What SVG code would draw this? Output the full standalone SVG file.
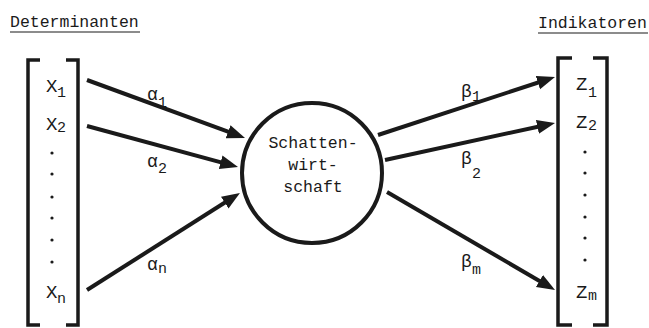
<svg xmlns="http://www.w3.org/2000/svg" width="649" height="328" viewBox="0 0 649 328">
<style>
text{font-family:"Liberation Mono","DejaVu Sans Mono",monospace;fill:#1a1a1a}
.t{font-size:16.5px}
.v{font-size:19px}
.s{font-size:15px}
.g{font-size:16.5px}
.a{font-size:18px}
.br{fill:none;stroke:#1a1a1a;stroke-width:3.5}
.u{stroke:#1a1a1a;stroke-width:1.2}
.c{stroke:#1a1a1a;stroke-width:4;fill:none;marker-end:url(#ah)}
.d{fill:#1a1a1a}
</style>
<defs>
<marker id="ah" markerUnits="userSpaceOnUse" markerWidth="20" markerHeight="18" refX="10" refY="8" orient="auto">
<path d="M0,1 L18,8 L0,15 z" fill="#1a1a1a"/>
</marker>
</defs>
<g id="title-left">
<text class="t" x="10" y="27">Determinanten</text>
<line class="u" x1="10" y1="32" x2="140" y2="32"/>
</g>
<g id="title-right">
<text class="t" x="538" y="28">Indikatoren</text>
<line class="u" x1="538" y1="33" x2="648" y2="33"/>
</g>
<g id="determinanten">
<path class="br" d="M40,60 H28 V325 H40"/>
<path class="br" d="M66,60 H78 V325 H66"/>
<text class="v" x="46" y="92">X</text><text class="s" x="57" y="97">1</text>
<text class="v" x="46" y="130">X</text><text class="s" x="57" y="132">2</text>
<circle class="d" cx="52" cy="153" r="1.6"/>
<circle class="d" cx="52" cy="174" r="1.6"/>
<circle class="d" cx="52" cy="197" r="1.6"/>
<circle class="d" cx="52" cy="218" r="1.6"/>
<circle class="d" cx="52" cy="240" r="1.6"/>
<circle class="d" cx="52" cy="262" r="1.6"/>
<text class="v" x="46" y="298">X</text><text class="s" x="57" y="303">n</text>
</g>
<g id="indikatoren">
<path class="br" d="M572,58 H558 V325 H572"/>
<path class="br" d="M593,58 H607 V325 H593"/>
<text class="v" x="576" y="90">Z</text><text class="s" x="588" y="97">1</text>
<text class="v" x="576" y="128">Z</text><text class="s" x="588" y="130">2</text>
<circle class="d" cx="585" cy="152" r="1.6"/>
<circle class="d" cx="585" cy="173" r="1.6"/>
<circle class="d" cx="585" cy="195" r="1.6"/>
<circle class="d" cx="585" cy="217" r="1.6"/>
<circle class="d" cx="585" cy="238" r="1.6"/>
<circle class="d" cx="585" cy="260" r="1.6"/>
<text class="v" x="576" y="298">Z</text><text class="s" x="588" y="300">m</text>
</g>
<g id="schattenwirtschaft">
<circle cx="312" cy="173" r="70" fill="none" stroke="#1a1a1a" stroke-width="4"/>
<text class="g" x="313" y="148" text-anchor="middle">Schatten-</text>
<text class="g" x="313" y="170" text-anchor="middle">wirt-</text>
<text class="g" x="313" y="192" text-anchor="middle">schaft</text>
</g>
<g id="connectors">
<line class="c" x1="87" y1="80" x2="237.5" y2="135.2"/>
<line class="c" x1="87" y1="126" x2="230.3" y2="164.9"/>
<line class="c" x1="87" y1="290" x2="233.2" y2="197.3"/>
<line class="c" x1="378" y1="135" x2="547.4" y2="79.5"/>
<line class="c" x1="385" y1="160" x2="547.2" y2="124.7"/>
<line class="c" x1="387" y1="192" x2="548.1" y2="286"/>
</g>
<g id="labels">
<text class="a" x="147" y="100">α</text><text class="s" x="158" y="107">1</text>
<text class="a" x="147" y="167">α</text><text class="s" x="158" y="173">2</text>
<text class="a" x="147" y="270">α</text><text class="s" x="158" y="273">n</text>
<text class="a" x="461" y="97">β</text><text class="s" x="472" y="101">1</text>
<text class="a" x="461" y="164">β</text><text class="s" x="472" y="178">2</text>
<text class="a" x="461" y="267">β</text><text class="s" x="472" y="274">m</text>
</g>
</svg>
